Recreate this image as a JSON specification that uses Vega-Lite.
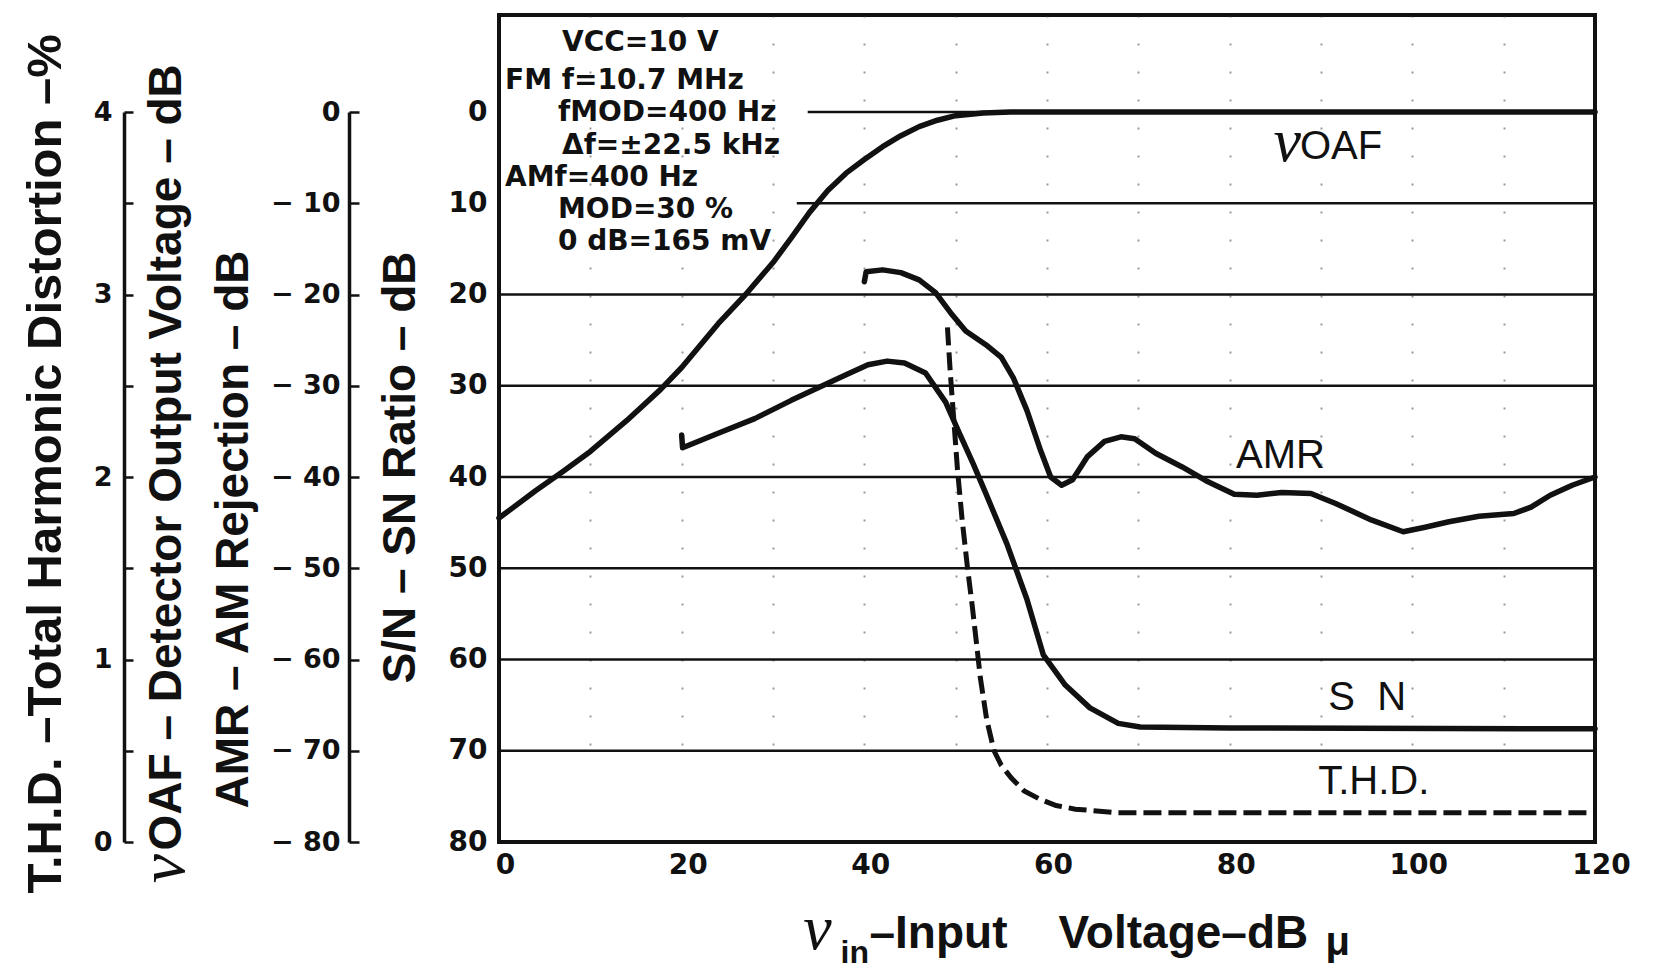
{
  "$schema": "https://vega.github.io/schema/vega-lite/v6.json",
  "width": 1096,
  "height": 827,
  "autosize": {"type": "none"},
  "padding": {"left": 499, "top": 15, "right": 76, "bottom": 128},
  "background": "#ffffff",
  "config": {
    "view": {"stroke": "#111111", "strokeWidth": 4},
    "axis": {"labelColor": "#111111", "titleColor": "#111111", "domainColor": "#111111", "tickColor": "#111111", "labelFlush": false}
  },
  "datasets": {
    "grid": [
      {"level": 0, "start": 33.8}, {"level": 10, "start": 32.6}, {"level": 20, "start": 0},
      {"level": 30, "start": 0}, {"level": 40, "start": 0}, {"level": 50, "start": 0},
      {"level": 60, "start": 0}, {"level": 70, "start": 0}
    ],
    "sn": [
      {"x": 20, "y": 35.4}, {"x": 20.1, "y": 36.8}, {"x": 24, "y": 35.2}, {"x": 28, "y": 33.6},
      {"x": 32, "y": 31.6}, {"x": 35, "y": 30.2}, {"x": 38, "y": 28.8}, {"x": 40.4, "y": 27.7},
      {"x": 42.5, "y": 27.3}, {"x": 44.4, "y": 27.5}, {"x": 46.7, "y": 28.6}, {"x": 48.9, "y": 31.8},
      {"x": 50.4, "y": 35.2}, {"x": 51.9, "y": 38.5}, {"x": 53.3, "y": 41.8}, {"x": 55.6, "y": 47.3},
      {"x": 57.8, "y": 53.4}, {"x": 59.6, "y": 59.5}, {"x": 62, "y": 62.8}, {"x": 64.7, "y": 65.3},
      {"x": 67.8, "y": 67}, {"x": 70.2, "y": 67.4}, {"x": 80, "y": 67.5}, {"x": 120, "y": 67.6}
    ],
    "thd": [
      {"x": 49.1, "y": 2.82}, {"x": 49.4, "y": 2.58}, {"x": 49.8, "y": 2.31}, {"x": 50.2, "y": 2.04},
      {"x": 50.7, "y": 1.77}, {"x": 51.3, "y": 1.5}, {"x": 51.8, "y": 1.3}, {"x": 52.3, "y": 1.08},
      {"x": 52.7, "y": 0.9}, {"x": 53.4, "y": 0.67}, {"x": 54.2, "y": 0.5}, {"x": 55, "y": 0.42},
      {"x": 56.1, "y": 0.35}, {"x": 57.5, "y": 0.28}, {"x": 59.2, "y": 0.235}, {"x": 61, "y": 0.2},
      {"x": 63.1, "y": 0.18}, {"x": 67.8, "y": 0.16}, {"x": 120, "y": 0.16}
    ],
    "amr": [
      {"x": 40, "y": -18.6}, {"x": 40.2, "y": -17.5}, {"x": 42, "y": -17.3}, {"x": 44, "y": -17.6},
      {"x": 46, "y": -18.4}, {"x": 47.8, "y": -19.8}, {"x": 49.6, "y": -22.2}, {"x": 51.1, "y": -24},
      {"x": 53.3, "y": -25.5}, {"x": 55, "y": -26.9}, {"x": 56.3, "y": -29.1}, {"x": 57.8, "y": -32.7},
      {"x": 59.3, "y": -37.1}, {"x": 60.4, "y": -40}, {"x": 61.6, "y": -40.9}, {"x": 62.8, "y": -40.3},
      {"x": 64.4, "y": -37.8}, {"x": 66.3, "y": -36.1}, {"x": 68.1, "y": -35.6}, {"x": 69.6, "y": -35.8},
      {"x": 71.9, "y": -37.4}, {"x": 74.8, "y": -38.9}, {"x": 77.4, "y": -40.4}, {"x": 80.5, "y": -41.9},
      {"x": 83, "y": -42}, {"x": 85.7, "y": -41.7}, {"x": 88.9, "y": -41.8}, {"x": 91.6, "y": -42.9},
      {"x": 95.5, "y": -44.7}, {"x": 99, "y": -46}, {"x": 101.4, "y": -45.5}, {"x": 104, "y": -44.9},
      {"x": 107.3, "y": -44.3}, {"x": 111.1, "y": -44}, {"x": 113, "y": -43.3}, {"x": 115.1, "y": -42},
      {"x": 117.5, "y": -40.9}, {"x": 120, "y": -40}
    ],
    "voaf": [
      {"x": 0, "y": -44.5}, {"x": 4, "y": -41.5}, {"x": 7, "y": -39.4}, {"x": 10, "y": -37.2},
      {"x": 14, "y": -33.8}, {"x": 17.7, "y": -30.4}, {"x": 20, "y": -28}, {"x": 24, "y": -23.2},
      {"x": 27, "y": -20}, {"x": 30, "y": -16.5}, {"x": 32, "y": -13.8}, {"x": 34, "y": -11},
      {"x": 36, "y": -8.6}, {"x": 38, "y": -6.7}, {"x": 40, "y": -5.2}, {"x": 42, "y": -3.8},
      {"x": 44, "y": -2.6}, {"x": 46, "y": -1.6}, {"x": 48, "y": -0.9}, {"x": 50, "y": -0.4},
      {"x": 53, "y": -0.1}, {"x": 56, "y": 0}, {"x": 120, "y": 0}
    ],
    "notes": [
      {"text": "VCC=10 V", "x": 6.9, "y": -7.6},
      {"text": "FM f=10.7 MHz", "x": 0.66, "y": -3.4},
      {"text": "fMOD=400 Hz", "x": 6.46, "y": 0.1},
      {"text": "Δf=±22.5 kHz", "x": 6.9, "y": 3.7},
      {"text": "AMf=400 Hz", "x": 0.66, "y": 7.2},
      {"text": "MOD=30 %", "x": 6.46, "y": 10.7},
      {"text": "0 dB=165 mV", "x": 6.46, "y": 14.2}
    ],
    "labels": [
      {"text": "OAF", "x": 87.7, "y": 3.8},
      {"text": "AMR", "x": 80.7, "y": 37.75},
      {"text": "S\u00a0\u00a0N", "x": 90.8, "y": 64.2},
      {"text": "T.H.D.", "x": 89.7, "y": 73.4}
    ],
    "vlabel": [
      {"text": "v", "x": 86.3, "y": 3.3}
    ]
  },
  "resolve": {
    "scale": {"x": "independent", "y": "independent"},
    "axis": {"x": "independent", "y": "independent"}
  },
  "layer": [
    {
      "data": {"name": "grid"},
      "mark": {"type": "rule", "stroke": "#111111", "strokeWidth": 2.5},
      "encoding": {
        "x": {"field": "start", "type": "quantitative",
          "scale": {"domain": [0, 120], "nice": false, "zero": false},
          "axis": {"orient": "bottom", "values": [0, 20, 40, 60, 80, 100, 120], "ticks": false, "domain": false, "grid": false,
            "labelPadding": 9, "labelOffset": 6, "labelFont": "DejaVu Sans", "labelFontWeight": "bold", "labelFontSize": 28, "title": null}},
        "x2": {"datum": 120},
        "y": {"field": "level", "type": "quantitative",
          "scale": {"domain": [0, 80], "range": [97, 827], "nice": false, "zero": false},
          "axis": {"orient": "left", "values": [0, 10, 20, 30, 40, 50, 60, 70, 80], "ticks": false, "domain": false, "grid": false,
            "labelPadding": 12, "labelFont": "DejaVu Sans", "labelFontWeight": "bold", "labelFontSize": 28,
            "title": "S/N – SN Ratio – dB", "titleFont": "Liberation Sans", "titleFontWeight": "bold", "titleFontSize": 46,
            "titleAngle": -90, "titleX": -99, "titleY": 668, "titleAlign": "left", "titleBaseline": "middle"}}
      }
    },
    {
      "data": {"name": "sn"},
      "mark": {"type": "line", "stroke": "#111111", "strokeWidth": 5.5, "strokeCap": "round", "strokeJoin": "round"},
      "encoding": {
        "x": {"field": "x", "type": "quantitative",
          "scale": {"domain": [0, 120], "nice": false, "zero": false},
          "axis": {"orient": "bottom", "values": [10, 20, 30, 40, 50, 60, 70, 80, 90, 100, 110], "grid": true, "gridColor": "#333333",
            "gridWidth": 2, "gridDash": [2, 26], "gridOpacity": 0.5, "ticks": false, "labels": false, "domain": false,
            "title": "–Input\u00a0\u00a0\u00a0\u00a0Voltage–dB", "titleFont": "Liberation Sans", "titleFontWeight": "bold", "titleFontSize": 46,
            "titleX": 370, "titleY": 105, "titleAlign": "left", "titleBaseline": "alphabetic", "titleAngle": 0}},
        "y": {"field": "y", "type": "quantitative",
          "scale": {"domain": [0, 80], "range": [97, 827], "nice": false, "zero": false}, "axis": null}
      }
    },
    {
      "data": {"name": "thd"},
      "mark": {"type": "line", "stroke": "#111111", "strokeWidth": 5, "strokeDash": [18, 7]},
      "encoding": {
        "x": {"field": "x", "type": "quantitative",
          "scale": {"domain": [0, 120], "nice": false, "zero": false},
          "axis": {"orient": "bottom", "ticks": false, "labels": false, "domain": false, "grid": false,
            "title": "v", "titleFont": "Liberation Serif", "titleFontStyle": "italic", "titleFontWeight": "normal", "titleFontSize": 64,
            "titleX": 318, "titleY": 106, "titleAlign": "center", "titleBaseline": "alphabetic", "titleAngle": 0}},
        "y": {"field": "y", "type": "quantitative",
          "scale": {"domain": [0, 4], "range": [827, 97], "nice": false, "zero": false},
          "axis": {"orient": "left", "offset": 375, "values": [0, 0.5, 1, 1.5, 2, 2.5, 3, 3.5, 4],
            "labelExpr": "datum.value % 1 == 0 ? format(datum.value, 'd') : ''",
            "tickSize": -9, "tickWidth": 2.5, "domainWidth": 3.5, "grid": false, "labelPadding": 21,
            "labelFont": "DejaVu Sans", "labelFontWeight": "bold", "labelFontSize": 27,
            "title": "T.H.D. –Total Harmonic Distortion –%", "titleFont": "Liberation Sans", "titleFontWeight": "bold", "titleFontSize": 49,
            "titleAngle": -90, "titleX": -79, "titleY": 878, "titleAlign": "left", "titleBaseline": "middle"}}
      }
    },
    {
      "data": {"name": "amr"},
      "mark": {"type": "line", "stroke": "#111111", "strokeWidth": 5.5, "strokeCap": "round", "strokeJoin": "round"},
      "encoding": {
        "x": {"field": "x", "type": "quantitative",
          "scale": {"domain": [0, 120], "nice": false, "zero": false},
          "axis": {"orient": "bottom", "ticks": false, "labels": false, "domain": false, "grid": false,
            "title": "in", "titleFont": "Liberation Sans", "titleFontWeight": "bold", "titleFontSize": 32,
            "titleX": 341, "titleY": 120, "titleAlign": "left", "titleBaseline": "alphabetic", "titleAngle": 0}},
        "y": {"field": "y", "type": "quantitative",
          "scale": {"domain": [-80, 0], "range": [827, 97], "nice": false, "zero": false},
          "axis": {"orient": "left", "offset": 150, "values": [-80, -70, -60, -50, -40, -30, -20, -10, 0],
            "labelExpr": "datum.value == 0 ? '0' : '−\u00a0' + format(-datum.value, 'd')",
            "tickSize": -10, "tickWidth": 2.5, "domainWidth": 3.5, "grid": false, "labelPadding": 19,
            "labelFont": "DejaVu Sans", "labelFontWeight": "bold", "labelFontSize": 27,
            "title": "AMR – AM Rejection – dB", "titleFont": "Liberation Sans", "titleFontWeight": "bold", "titleFontSize": 46,
            "titleAngle": -90, "titleX": -116, "titleY": 793, "titleAlign": "left", "titleBaseline": "middle"}}
      }
    },
    {
      "data": {"name": "voaf"},
      "mark": {"type": "line", "stroke": "#111111", "strokeWidth": 5.5, "strokeCap": "round", "strokeJoin": "round"},
      "encoding": {
        "x": {"field": "x", "type": "quantitative",
          "scale": {"domain": [0, 120], "nice": false, "zero": false},
          "axis": {"orient": "bottom", "ticks": false, "labels": false, "domain": false, "grid": false,
            "title": "μ", "titleFont": "Liberation Sans", "titleFontWeight": "bold", "titleFontSize": 40,
            "titleX": 826, "titleY": 112, "titleAlign": "left", "titleBaseline": "alphabetic", "titleAngle": 0}},
        "y": {"field": "y", "type": "quantitative",
          "scale": {"domain": [-80, 0], "range": [827, 97], "nice": false, "zero": false},
          "axis": {"orient": "left", "offset": 150, "ticks": false, "labels": false, "domain": false, "grid": false,
            "title": "OAF – Detector Output Voltage – dB", "titleFont": "Liberation Sans", "titleFontWeight": "bold", "titleFontSize": 46,
            "titleAngle": -90, "titleX": -183, "titleY": 835, "titleAlign": "left", "titleBaseline": "middle"}}
      }
    },
    {
      "data": {"name": "notes"},
      "mark": {"type": "text", "font": "DejaVu Sans", "fontWeight": "bold", "fontSize": 28, "align": "left", "baseline": "middle", "color": "#111111"},
      "encoding": {
        "x": {"field": "x", "type": "quantitative",
          "scale": {"domain": [0, 120], "nice": false, "zero": false}, "axis": null},
        "y": {"field": "y", "type": "quantitative",
          "scale": {"domain": [0, 80], "range": [97, 827], "nice": false, "zero": false},
          "axis": {"orient": "left", "offset": 150, "ticks": false, "labels": false, "domain": false, "grid": false,
            "title": "v", "titleFont": "Liberation Serif", "titleFontStyle": "italic", "titleFontWeight": "normal", "titleFontSize": 66,
            "titleAngle": -90, "titleX": -186, "titleY": 853, "titleAlign": "center", "titleBaseline": "middle"}},
        "text": {"field": "text"}
      }
    },
    {
      "data": {"name": "labels"},
      "mark": {"type": "text", "font": "Liberation Sans", "fontSize": 40, "align": "left", "baseline": "middle", "color": "#111111"},
      "encoding": {
        "x": {"field": "x", "type": "quantitative",
          "scale": {"domain": [0, 120], "nice": false, "zero": false}, "axis": null},
        "y": {"field": "y", "type": "quantitative",
          "scale": {"domain": [0, 80], "range": [97, 827], "nice": false, "zero": false}, "axis": null},
        "text": {"field": "text"}
      }
    },
    {
      "data": {"name": "vlabel"},
      "mark": {"type": "text", "font": "Liberation Serif", "fontStyle": "italic", "fontSize": 62, "align": "center", "baseline": "middle", "color": "#111111"},
      "encoding": {
        "x": {"field": "x", "type": "quantitative",
          "scale": {"domain": [0, 120], "nice": false, "zero": false}, "axis": null},
        "y": {"field": "y", "type": "quantitative",
          "scale": {"domain": [0, 80], "range": [97, 827], "nice": false, "zero": false}, "axis": null},
        "text": {"field": "text"}
      }
    }
  ]
}
